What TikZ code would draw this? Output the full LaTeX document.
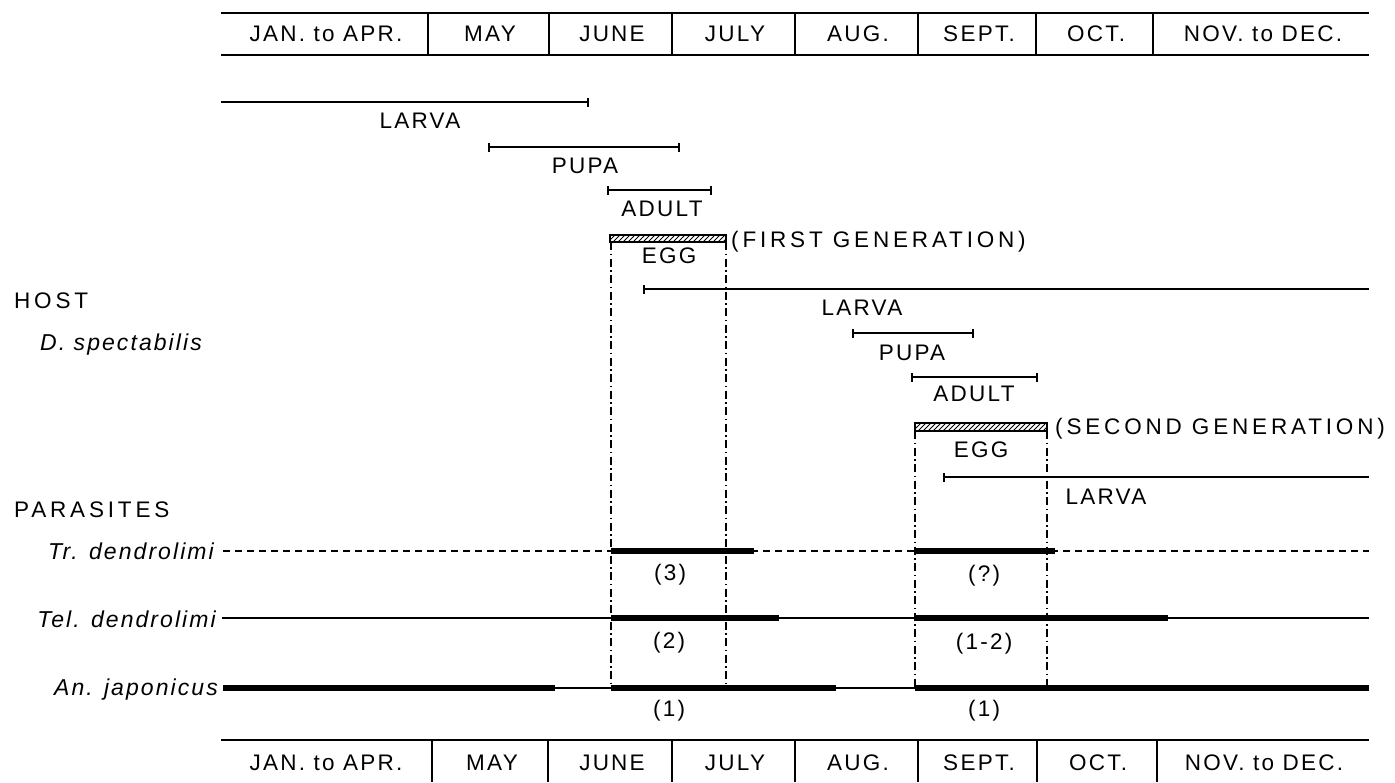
\documentclass[tikz,border=0pt]{standalone}
\usepackage{fontspec}
\setmainfont{Liberation Sans}
\newfontfamily\labfont[LetterSpace=10]{Liberation Sans}
\newfontfamily\widefont[LetterSpace=17]{Liberation Sans}
\newfontfamily\hdfont[LetterSpace=10]{Liberation Sans}
\newfontfamily\spfont[LetterSpace=9]{Liberation Sans}
\usetikzlibrary{arrows.meta}
\tikzset{
  lab/.style={font=\labfont\fontsize{22.5}{26}\selectfont, inner sep=0pt, anchor=base},
  widelab/.style={font=\widefont\fontsize{22.5}{26}\selectfont, inner sep=0pt, anchor=base west},
  hd/.style={font=\hdfont\fontsize{22.5}{26}\selectfont, inner sep=0pt, anchor=base},
  sp/.style={font=\spfont\itshape\fontsize{23}{26}\selectfont, inner sep=0pt, anchor=base east},
  rule/.style={line width=1.6pt},
  span/.style={line width=1.8pt},
  heavy/.style={line width=6.5pt},
  ddot/.style={line width=1.2pt, dash pattern=on 8pt off 3.5pt on 1.5pt off 3.5pt},
  dline/.style={line width=1.6pt, dash pattern=on 7pt off 5pt},
  bt/.tip={Bar[width=9pt,line width=1.6pt]},
}
\begin{document}
\begin{tikzpicture}[x=1pt,y=-1pt]
\useasboundingbox (0,0) rectangle (1395,782);

% ---------- top header ----------
\draw[rule] (221,13) -- (1369,13);
\draw[rule] (221,55) -- (1369,55);
\foreach \x in {428,549,672,795,918,1036,1153} \draw[rule] (\x,13) -- (\x,55);
\node[hd] (t1) at (326,41) {JAN. to APR.};
\node[hd] (t2) at (490,41) {MAY};
\node[hd] (t3) at (612,41) {JUNE};
\node[hd] (t4) at (735,41) {JULY};
\node[hd] (t5) at (858,41) {AUG.};
\node[hd] (t6) at (979,41) {SEPT.};
\node[hd] (t7) at (1096,41) {OCT.};
\node[hd] (t8) at (1263,41) {NOV. to DEC.};

% ---------- bottom header ----------
\draw[rule] (221,740) -- (1369,740);
\foreach \x in {432,548,672,795,918,1037,1157} \draw[rule] (\x,740) -- (\x,782);
\node[hd] (b1) at (326,770) {JAN. to APR.};
\node[hd] (b2) at (492,770) {MAY};
\node[hd] (b3) at (612,770) {JUNE};
\node[hd] (b4) at (735,770) {JULY};
\node[hd] (b5) at (858,770) {AUG.};
\node[hd] (b6) at (979,770) {SEPT.};
\node[hd] (b7) at (1098,770) {OCT.};
\node[hd] (b8) at (1264,770) {NOV. to DEC.};

% ---------- left labels ----------
\node[widelab] (host) at (14,308) {HOST};
\node[sp, anchor=base west] (dsp) at (40,350) {D. spectabilis};
\node[widelab] (para) at (14,517) {PARASITES};
\node[sp] (tr) at (214,559) {Tr. dendrolimi};
\node[sp] (tel) at (216,627) {Tel. dendrolimi};
\node[sp] (an) at (218,695) {An. japonicus};

% ---------- host, first generation ----------
\draw[span,-bt] (221,102) -- (589,102);
\node[lab] (l1) at (420,128) {LARVA};
\draw[span,bt-bt] (488,147) -- (680,147);
\node[lab] (p1) at (585,173) {PUPA};
\draw[span,bt-bt] (607,190) -- (712,190);
\node[lab] (a1) at (662,216) {ADULT};
\begin{scope}
  \clip (610,235) rectangle (726,242);
  \foreach \k in {0,...,25} \draw[line width=1pt] ({603+\k*5},242) -- ++(7,-7);
\end{scope}
\draw[line width=1.4pt] (610,235) rectangle (726,242);
\node[lab] (e1) at (669,263) {EGG};
\node[widelab] (g1) at (731,247) {(FIRST GENERATION)};

% ---------- host, second generation ----------
\draw[span,bt-] (643,289) -- (1369,289);
\node[lab] (l2) at (862,315) {LARVA};
\draw[span,bt-bt] (852,333) -- (974,333);
\node[lab] (p2) at (912,360) {PUPA};
\draw[span,bt-bt] (911,377) -- (1038,377);
\node[lab] (a2) at (974,401) {ADULT};
\begin{scope}
  \clip (915,423) rectangle (1047,431);
  \foreach \k in {0,...,29} \draw[line width=1pt] ({908+\k*5},431) -- ++(8,-8);
\end{scope}
\draw[line width=1.4pt] (915,423) rectangle (1047,431);
\node[lab] (e2) at (981,457) {EGG};
\node[widelab] (g2) at (1055,434) {(SECOND GENERATION)};

\draw[span,bt-] (943,477) -- (1369,477);
\node[lab] (l3) at (1106,504) {LARVA};

% ---------- dash-dot verticals ----------
\draw[ddot] (611,242) -- (611,688);
\draw[ddot] (726,242) -- (726,688);
\draw[ddot] (915,431) -- (915,688);
\draw[ddot] (1047,431) -- (1047,688);

% ---------- parasites ----------
\draw[dline] (223,551) -- (1369,551);
\draw[heavy] (611,551) -- (754,551);
\draw[heavy] (915,551) -- (1055,551);
\node[lab] (n3) at (670,580) {(3)};
\node[lab] (nq) at (984,581) {(?)};

\draw[span] (222,618) -- (1369,618);
\draw[heavy] (611,618) -- (779,618);
\draw[heavy] (915,618) -- (1168,618);
\node[lab] (n2) at (669,648) {(2)};
\node[lab] (n12) at (984,649) {(1-2)};

\draw[span] (223,688) -- (1369,688);
\draw[heavy] (223,688) -- (555,688);
\draw[heavy] (611,688) -- (836,688);
\draw[heavy] (915,688) -- (1369,688);
\node[lab] (n1a) at (669,716) {(1)};
\node[lab] (n1b) at (984,716) {(1)};
\end{tikzpicture}
\end{document}
